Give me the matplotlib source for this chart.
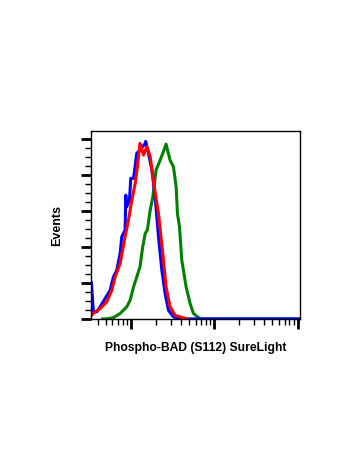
import matplotlib
matplotlib.use("Agg")
import matplotlib.pyplot as plt
from matplotlib.ticker import MultipleLocator, LogLocator, NullFormatter

# Data (fluorescence intensity, normalized events)
blue_x = [3.37, 3.37, 3.56, 3.91, 4.29, 4.92, 5.65, 6.19, 6.79, 7.45, 7.80, 8.55, 8.71, 8.95,
          9.64, 10.0, 10.8, 11.8, 12.9, 14.9, 15.1, 16.3, 17.9, 19.6, 21.5, 23.6, 25.8,
          28.3, 32.5, 39.1, 1070]
blue_y = [20.0, 20.0, 4.0, 3.9, 6.7, 11.3, 15.9, 23.3, 27.0, 36.3, 45.6, 49.3, 68.7, 62.2,
          65.9, 78.0, 78.0, 91.9, 93.7, 97.4, 98.5, 91.9, 82.6, 67.8, 45.6, 27.0, 14.1,
          4.8, 1.1, 0.0, 0.0]

red_x = [3.37, 3.73, 4.29, 5.15, 5.92, 6.49, 7.45, 8.55, 9.38, 10.3, 11.3, 12.0, 12.9,
         14.2, 15.6, 17.1, 19.1, 21.5, 24.2, 26.5, 29.6, 34.0, 47.0]
red_y = [2.0, 3.9, 5.7, 9.4, 15.9, 23.3, 30.7, 45.6, 54.8, 65.9, 75.2, 84.4, 97.4,
         90.9, 95.6, 90.0, 73.3, 58.5, 36.3, 17.8, 6.7, 2.0, 0.0]

green_x = [4.6, 5.15, 6.19, 7.45, 8.95, 9.82, 10.8, 11.8, 12.9, 13.9, 14.9, 15.8, 17.1,
           18.4, 20.1, 22.1, 24.2, 26.5, 29.6, 32.5, 35.0, 36.3, 38.4, 40.9, 46.1,
           51.5, 56.5, 67.9, 1070]
green_y = [0.0, 0.0, 0.7, 3.0, 6.7, 10.4, 17.8, 23.3, 28.9, 40.0, 47.4, 49.3, 60.4,
           67.8, 82.6, 87.2, 91.9, 97.0, 88.1, 84.4, 73.3, 58.5, 51.1, 32.6, 17.8,
           8.5, 3.0, 0.0, 0.0]

x_label = "Phospho-BAD (S112) SureLight"
y_label = "Events"

fig = plt.figure(figsize=(3.5, 4.67), dpi=100)
ax = fig.add_axes([0.259, 0.316, 0.598, 0.404])

lw = 2.2
ax.plot(green_x, green_y, color="#008000", lw=lw, solid_joinstyle="round")
ax.plot(blue_x, blue_y, color="#0000ff", lw=lw, solid_joinstyle="round")
ax.plot(red_x, red_y, color="#ff0000", lw=lw, solid_joinstyle="round")

ax.set_xscale("log")
ax.set_xlim(3.3, 1070)
ax.set_ylim(-0.3, 104.4)

ax.xaxis.set_major_locator(LogLocator(base=10, numticks=10))
ax.xaxis.set_minor_locator(LogLocator(base=10, subs=range(2, 10), numticks=20))
ax.xaxis.set_major_formatter(NullFormatter())
ax.xaxis.set_minor_formatter(NullFormatter())
ax.yaxis.set_major_locator(MultipleLocator(20))
ax.yaxis.set_minor_locator(MultipleLocator(5))
ax.yaxis.set_major_formatter(NullFormatter())

ax.tick_params(axis="both", which="major", direction="out", length=7, width=2, color="black")
ax.tick_params(axis="both", which="minor", direction="out", length=4, width=1, color="black")

for s in ax.spines.values():
    s.set_linewidth(1)
    s.set_color("black")

ax.set_xlabel(x_label, fontsize=8.7, fontweight="bold", family="Liberation Sans", labelpad=6)
ax.set_ylabel(y_label, fontsize=9, fontweight="bold", family="Liberation Sans", labelpad=9)

fig.savefig("out.png", dpi=100)
